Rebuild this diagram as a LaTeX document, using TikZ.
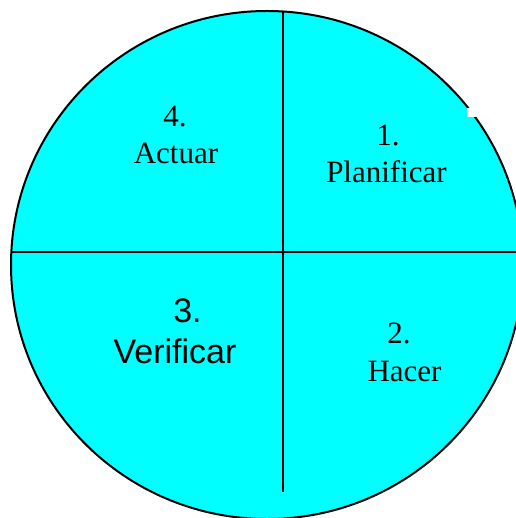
\documentclass[tikz,border=0pt]{standalone}
\usepackage{fontspec}
\setmainfont{Liberation Serif}
\newfontfamily\arialfont{Liberation Sans}
\usepackage{tikz}
\usetikzlibrary{positioning,calc}
\definecolor{PDCACyan}{RGB}{0,255,255}

\begin{document}
\begin{tikzpicture}[x=1pt,y=-1pt,
  stxt/.style={anchor=base,inner sep=0pt,font=\fontsize{31}{37}\selectfont},
  atxt/.style={anchor=base,inner sep=0pt,font=\arialfont\fontsize{34}{41}\selectfont},
]
\useasboundingbox (0,0) rectangle (515,518);
\draw[fill=PDCACyan,line width=2pt] (267,265) ellipse [x radius=256,y radius=254];
\fill[white] (467,108) rectangle (476,117);
\coordinate (top) at (283,11.5);
\coordinate (bot) at (283,492);
\coordinate (lft) at (11,252);
\coordinate (rgt) at (523,252);
\draw[line width=1.5pt] (top) -- (bot);
\draw[line width=1.5pt] (lft) -- (rgt);
% quadrant labels
\node[stxt] (n4) at (175,127) {4.};
\node[stxt] (act) at (176,164) {Actuar};
\node[stxt] (n1) at (388,146) {1.};
\node[stxt] (plan) at (386.5,183) {Planificar};
\node[atxt] (n3) at (187.5,322) {3.};
\node[atxt] (ver) at (175,363) {Verificar};
\node[stxt] (n2) at (399,343) {2.};
\node[stxt] (hac) at (404.5,381) {Hacer};
\end{tikzpicture}
\end{document}
